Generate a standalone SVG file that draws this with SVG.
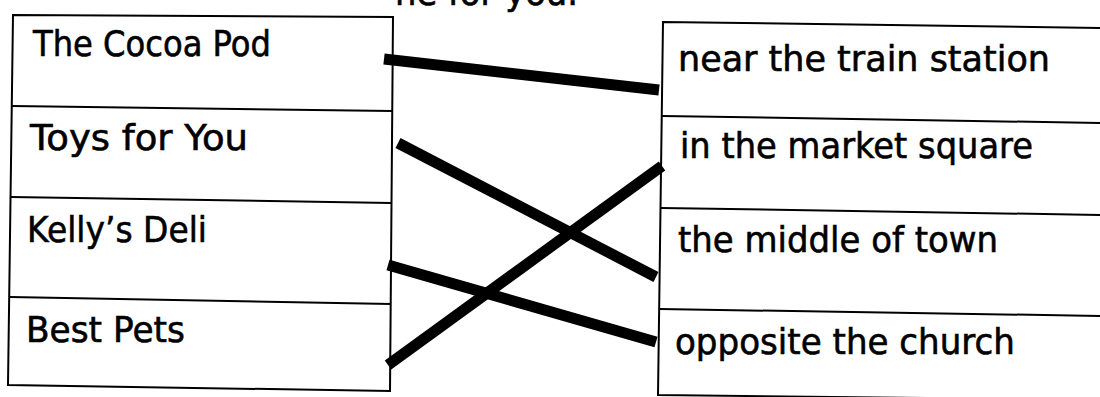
<svg xmlns="http://www.w3.org/2000/svg" width="1100" height="397" viewBox="0 0 1100 397">
  <style>
    .box { fill: none; stroke: #000; stroke-width: 2; }
    .lbl { font-family: "DejaVu Sans", "Liberation Sans", sans-serif; font-size: 35px; fill: #000; stroke: #000; stroke-width: 0.6; }
    .link { stroke: #000; stroke-width: 11; stroke-linecap: butt; fill: none; }
  </style>
  <rect width="1100" height="397" fill="#fff"/>
  <text class="lbl" x="395" y="5" textLength="183" lengthAdjust="spacingAndGlyphs">ne for you.</text>

  <g id="left-column">
    <path class="box" d="M13,15 L393,17 L390,391 L8,385 Z"/>
    <g id="n-cocoa-pod">
      <path class="box" d="M12,106 L392,111"/>
      <text class="lbl" x="33" y="56" textLength="238" lengthAdjust="spacingAndGlyphs">The Cocoa Pod</text>
    </g>
    <g id="n-toys-for-you">
      <path class="box" d="M11,197 L391,203"/>
      <text class="lbl" x="30" y="150" textLength="218" lengthAdjust="spacingAndGlyphs">Toys for You</text>
    </g>
    <g id="n-kellys-deli">
      <path class="box" d="M10,297 L391,304"/>
      <text class="lbl" x="27" y="242" textLength="180" lengthAdjust="spacingAndGlyphs">Kelly’s Deli</text>
    </g>
    <g id="n-best-pets">
      <text class="lbl" x="26" y="342" textLength="159" lengthAdjust="spacingAndGlyphs">Best Pets</text>
    </g>
  </g>

  <g id="right-column">
    <path class="box" d="M1105,28 L663,22 L658,395 L1105,400"/>
    <g id="n-train-station">
      <path class="box" d="M662,116 L1105,123"/>
      <text class="lbl" x="678" y="71" textLength="372" lengthAdjust="spacingAndGlyphs">near the train station</text>
    </g>
    <g id="n-market-square">
      <path class="box" d="M661,208 L1105,215"/>
      <text class="lbl" x="680" y="158" textLength="353" lengthAdjust="spacingAndGlyphs">in the market square</text>
    </g>
    <g id="n-middle-of-town">
      <path class="box" d="M660,309 L1105,316"/>
      <text class="lbl" x="678" y="252" textLength="320" lengthAdjust="spacingAndGlyphs">the middle of town</text>
    </g>
    <g id="n-opposite-church">
      <text class="lbl" x="675" y="354" textLength="340" lengthAdjust="spacingAndGlyphs">opposite the church</text>
    </g>
  </g>

  <g id="connectors">
    <line class="link" x1="384" y1="59" x2="659" y2="90"/>
    <line class="link" x1="398" y1="143" x2="656" y2="277"/>
    <line class="link" x1="388" y1="265" x2="656" y2="342"/>
    <line class="link" x1="388" y1="365" x2="662" y2="166"/>
  </g>
</svg>
